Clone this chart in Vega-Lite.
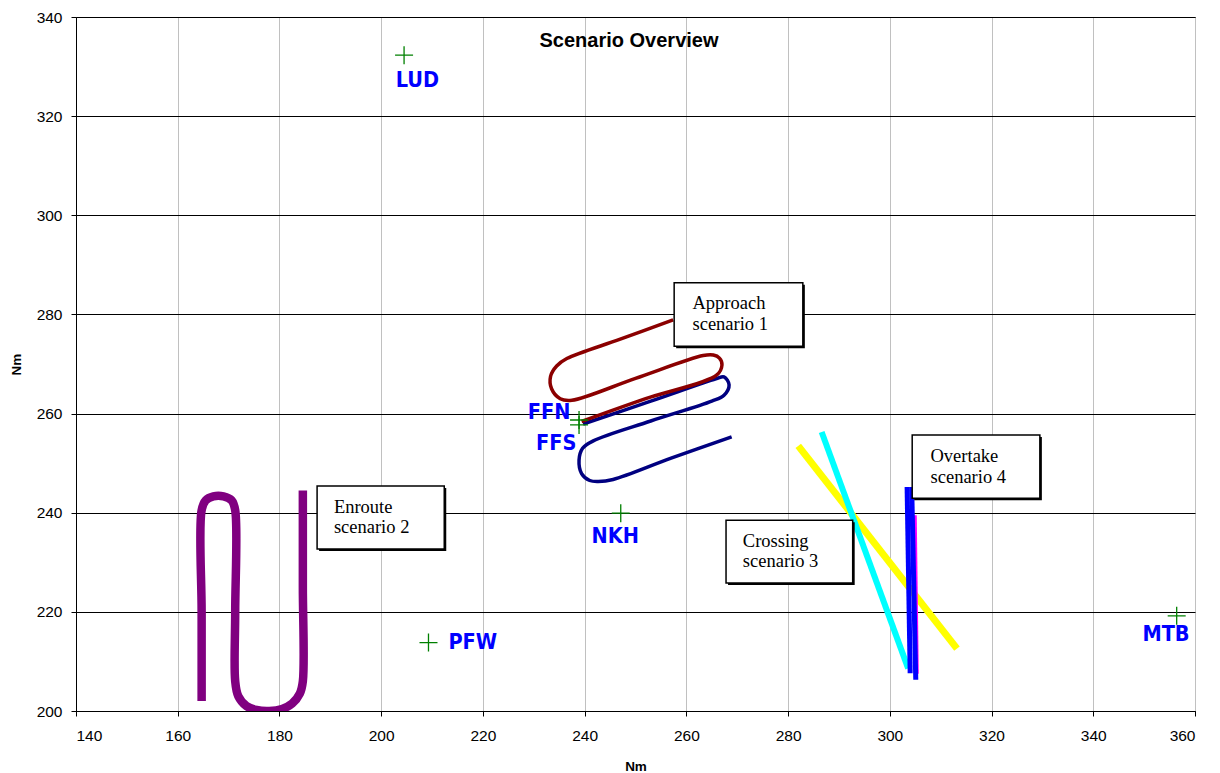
{
  "$schema": "https://vega.github.io/schema/vega-lite/v6.json",
  "width": 1119,
  "height": 694,
  "autosize": {"type": "none"},
  "padding": {"left": 76, "top": 17, "right": 25, "bottom": 62},
  "background": "white",
  "title": {
    "text": "Scenario Overview",
    "font": "Liberation Sans",
    "fontSize": 20,
    "fontWeight": "bold",
    "color": "black",
    "anchor": "middle",
    "frame": "group",
    "baseline": "alphabetic",
    "offset": -30,
    "dx": -6.5,
    "dy": 27
  },
  "config": {
    "view": {"stroke": "black", "strokeWidth": 1},
    "axis": {
      "labelFont": "Liberation Sans",
      "labelFontSize": 15.5,
      "labelColor": "black",
      "titleFont": "Liberation Sans",
      "titleFontSize": 13.5,
      "titleFontWeight": "bold",
      "titleColor": "black",
      "domainColor": "black",
      "tickColor": "black",
      "tickSize": 5,
      "gridOpacity": 1
    }
  },
  "datasets": {
    "tracks": [
      {"track": "navy", "i": 1, "x": 239.7, "y": 257.9},
      {"track": "navy", "i": 2, "x": 253.0, "y": 262.5},
      {"track": "navy", "i": 3, "x": 265.8, "y": 267.0},
      {"track": "navy", "i": 4, "x": 267.4, "y": 267.4},
      {"track": "navy", "i": 5, "x": 268.4, "y": 265.8},
      {"track": "navy", "i": 6, "x": 267.4, "y": 263.7},
      {"track": "navy", "i": 7, "x": 265.0, "y": 262.5},
      {"track": "navy", "i": 8, "x": 253.0, "y": 258.5},
      {"track": "navy", "i": 9, "x": 241.7, "y": 254.5},
      {"track": "navy", "i": 10, "x": 239.6, "y": 253.0},
      {"track": "navy", "i": 11, "x": 238.9, "y": 250.6},
      {"track": "navy", "i": 12, "x": 239.4, "y": 247.9},
      {"track": "navy", "i": 13, "x": 241.0, "y": 246.5},
      {"track": "navy", "i": 14, "x": 242.7, "y": 246.3},
      {"track": "navy", "i": 15, "x": 245.6, "y": 246.7},
      {"track": "navy", "i": 16, "x": 257.0, "y": 251.0},
      {"track": "navy", "i": 17, "x": 268.9, "y": 255.3},
      {"track": "red", "i": 1, "x": 239.4, "y": 258.4},
      {"track": "red", "i": 2, "x": 252.0, "y": 263.0},
      {"track": "red", "i": 3, "x": 266.0, "y": 267.8},
      {"track": "red", "i": 4, "x": 267.0, "y": 269.8},
      {"track": "red", "i": 5, "x": 266.5, "y": 271.2},
      {"track": "red", "i": 6, "x": 265.3, "y": 271.8},
      {"track": "red", "i": 7, "x": 263.3, "y": 271.7},
      {"track": "red", "i": 8, "x": 250.0, "y": 267.1},
      {"track": "red", "i": 9, "x": 237.5, "y": 262.7},
      {"track": "red", "i": 10, "x": 235.2, "y": 263.0},
      {"track": "red", "i": 11, "x": 233.5, "y": 265.0},
      {"track": "red", "i": 12, "x": 233.3, "y": 267.5},
      {"track": "red", "i": 13, "x": 234.5, "y": 269.6},
      {"track": "red", "i": 14, "x": 236.5, "y": 271.1},
      {"track": "red", "i": 15, "x": 247.0, "y": 275.0},
      {"track": "red", "i": 16, "x": 257.4, "y": 278.9},
      {"track": "purple", "i": 1, "x": 164.7, "y": 202.0},
      {"track": "purple", "i": 2, "x": 164.7, "y": 220.0},
      {"track": "purple", "i": 3, "x": 164.7, "y": 240.5},
      {"track": "purple", "i": 4, "x": 165.5, "y": 242.5},
      {"track": "purple", "i": 5, "x": 167.0, "y": 243.3},
      {"track": "purple", "i": 6, "x": 169.0, "y": 243.3},
      {"track": "purple", "i": 7, "x": 170.6, "y": 242.5},
      {"track": "purple", "i": 8, "x": 171.3, "y": 240.5},
      {"track": "purple", "i": 9, "x": 171.3, "y": 220.0},
      {"track": "purple", "i": 10, "x": 171.3, "y": 206.0},
      {"track": "purple", "i": 11, "x": 171.9, "y": 203.0},
      {"track": "purple", "i": 12, "x": 173.5, "y": 201.0},
      {"track": "purple", "i": 13, "x": 175.5, "y": 200.2},
      {"track": "purple", "i": 14, "x": 178.0, "y": 200.0},
      {"track": "purple", "i": 15, "x": 180.5, "y": 200.4},
      {"track": "purple", "i": 16, "x": 182.5, "y": 201.5},
      {"track": "purple", "i": 17, "x": 184.0, "y": 203.5},
      {"track": "purple", "i": 18, "x": 184.6, "y": 206.0},
      {"track": "purple", "i": 19, "x": 184.6, "y": 225.0},
      {"track": "purple", "i": 20, "x": 184.6, "y": 244.5},
      {"track": "yellow", "i": 1, "x": 282.0, "y": 253.5},
      {"track": "yellow", "i": 2, "x": 313.2, "y": 212.6},
      {"track": "cyan", "i": 1, "x": 286.6, "y": 256.3},
      {"track": "cyan", "i": 2, "x": 303.6, "y": 208.6},
      {"track": "magenta", "i": 1, "x": 305.0, "y": 239.5},
      {"track": "magenta", "i": 2, "x": 305.4, "y": 207.5},
      {"track": "blue1", "i": 1, "x": 303.4, "y": 245.2},
      {"track": "blue1", "i": 2, "x": 304.0, "y": 207.6},
      {"track": "blue2", "i": 1, "x": 304.3, "y": 245.2},
      {"track": "blue2", "i": 2, "x": 305.1, "y": 206.3}
    ],
    "boxes": [
      {"box": "Approach", "x": 257.6, "x2": 282.9, "y": 286.4, "y2": 273.6},
      {"box": "Enroute", "x": 187.4, "x2": 212.4, "y": 245.4, "y2": 232.7},
      {"box": "Crossing", "x": 267.8, "x2": 292.7, "y": 238.5, "y2": 225.8},
      {"box": "Overtake", "x": 304.4, "x2": 329.5, "y": 255.7, "y2": 242.9}
    ],
    "boxtext": [
      {"x": 261.2, "y": 282.3, "text": "Approach\nscenario 1"},
      {"x": 190.7, "y": 241.2, "text": "Enroute\nscenario 2"},
      {"x": 271.1, "y": 234.3, "text": "Crossing\nscenario 3"},
      {"x": 308.0, "y": 251.4, "text": "Overtake\nscenario 4"}
    ],
    "waypoints": [
      {"name": "LUD", "x": 204.5, "y": 332.3},
      {"name": "FFN", "x": 238.9, "y": 258.7},
      {"name": "FFS", "x": 238.9, "y": 257.7},
      {"name": "NKH", "x": 247.1, "y": 239.9},
      {"name": "PFW", "x": 209.3, "y": 213.8},
      {"name": "MTB", "x": 356.4, "y": 219.2}
    ],
    "waylabels": [
      {"name": "LUD", "x": 207.1, "y": 327.1},
      {"name": "FFN", "x": 233.0, "y": 260.1},
      {"name": "FFS", "x": 234.4, "y": 253.9},
      {"name": "NKH", "x": 246.0, "y": 235.1},
      {"name": "PFW", "x": 218.0, "y": 213.7},
      {"name": "MTB", "x": 354.3, "y": 215.4}
    ]
  },
  "encoding": {
    "x": {
      "field": "x",
      "type": "quantitative",
      "scale": {"domain": [140, 360], "nice": false, "zero": false},
      "axis": {
        "title": "Nm",
        "values": [140, 160, 180, 200, 220, 240, 260, 280, 300, 320, 340, 360],
        "grid": true,
        "gridColor": "#c0c0c0",
        "gridWidth": 1,
        "labelPadding": 12,
        "titleY": 59,
        "titleBaseline": "alphabetic"
      }
    },
    "y": {
      "field": "y",
      "type": "quantitative",
      "scale": {"domain": [200, 340], "nice": false, "zero": false},
      "axis": {
        "title": "Nm",
        "values": [200, 220, 240, 260, 280, 300, 320, 340],
        "grid": true,
        "gridColor": "black",
        "gridWidth": 1,
        "labelPadding": 9,
        "titleAngle": 270,
        "titleX": -56,
        "titleY": 347,
        "titleBaseline": "alphabetic"
      }
    }
  },
  "layer": [
    {
      "data": {"name": "tracks"},
      "transform": [{"filter": {"field": "track", "equal": "navy"}}],
      "mark": {"type": "line", "color": "#000080", "strokeWidth": 3.5, "interpolate": "catmull-rom", "clip": true},
      "encoding": {"order": {"field": "i", "type": "quantitative"}}
    },
    {
      "data": {"name": "tracks"},
      "transform": [{"filter": {"field": "track", "equal": "red"}}],
      "mark": {"type": "line", "color": "#8b0000", "strokeWidth": 3.5, "interpolate": "catmull-rom", "clip": true},
      "encoding": {"order": {"field": "i", "type": "quantitative"}}
    },
    {
      "data": {"name": "tracks"},
      "transform": [{"filter": {"field": "track", "equal": "purple"}}],
      "mark": {"type": "line", "color": "#800080", "strokeWidth": 8.5, "interpolate": "catmull-rom", "clip": true},
      "encoding": {"order": {"field": "i", "type": "quantitative"}}
    },
    {
      "data": {"name": "tracks"},
      "transform": [{"filter": {"field": "track", "equal": "yellow"}}],
      "mark": {"type": "line", "color": "#ffff00", "strokeWidth": 7, "clip": true},
      "encoding": {"order": {"field": "i", "type": "quantitative"}}
    },
    {
      "data": {"name": "tracks"},
      "transform": [{"filter": {"field": "track", "equal": "cyan"}}],
      "mark": {"type": "line", "color": "#00ffff", "strokeWidth": 6, "clip": true},
      "encoding": {"order": {"field": "i", "type": "quantitative"}}
    },
    {
      "data": {"name": "tracks"},
      "transform": [{"filter": {"field": "track", "equal": "magenta"}}],
      "mark": {"type": "line", "color": "#ff00ff", "strokeWidth": 3, "clip": true},
      "encoding": {"order": {"field": "i", "type": "quantitative"}}
    },
    {
      "data": {"name": "tracks"},
      "transform": [{"filter": {"field": "track", "equal": "blue1"}}],
      "mark": {"type": "line", "color": "#0000ff", "strokeWidth": 5, "clip": true},
      "encoding": {"order": {"field": "i", "type": "quantitative"}}
    },
    {
      "data": {"name": "tracks"},
      "transform": [{"filter": {"field": "track", "equal": "blue2"}}],
      "mark": {"type": "line", "color": "#0000ff", "strokeWidth": 5, "clip": true},
      "encoding": {"order": {"field": "i", "type": "quantitative"}}
    },
    {
      "data": {"name": "boxes"},
      "mark": {"type": "rect", "fill": "black", "xOffset": 2, "x2Offset": 2, "yOffset": 2, "y2Offset": 2},
      "encoding": {"x2": {"field": "x2"}, "y2": {"field": "y2"}}
    },
    {
      "data": {"name": "boxes"},
      "mark": {"type": "rect", "fill": "white", "stroke": "black", "strokeWidth": 1.5},
      "encoding": {"x2": {"field": "x2"}, "y2": {"field": "y2"}}
    },
    {
      "data": {"name": "boxtext"},
      "mark": {"type": "text", "font": "Liberation Serif", "fontSize": 18.5, "color": "black", "align": "left", "baseline": "middle", "lineBreak": "\n", "lineHeight": 20.5},
      "encoding": {"text": {"field": "text"}}
    },
    {
      "data": {"name": "waypoints"},
      "mark": {"type": "point", "shape": "M-1,0L1,0M0,-1L0,1", "size": 324, "filled": false, "stroke": "#008000", "strokeWidth": 1.3, "opacity": 1}
    },
    {
      "data": {"name": "waylabels"},
      "mark": {"type": "text", "font": "DejaVu Sans Condensed, sans-serif", "fontWeight": "bold", "fontSize": 21.5, "color": "#0000ff", "align": "center", "baseline": "middle"},
      "encoding": {"text": {"field": "name"}}
    }
  ]
}
